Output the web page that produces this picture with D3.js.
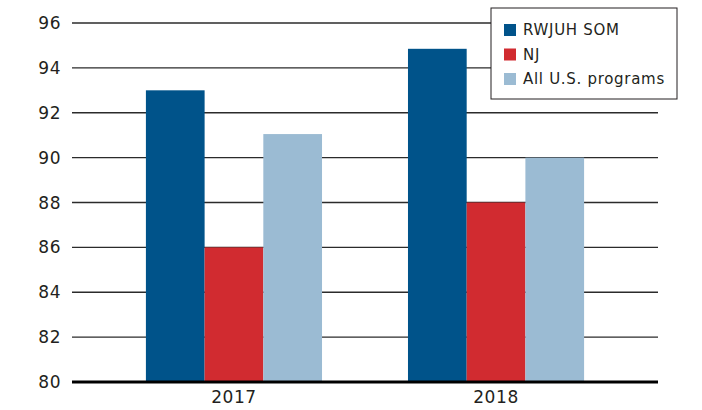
<!DOCTYPE html>
<html>
<head>
<meta charset="utf-8">
<script src="https://cdn.jsdelivr.net/npm/d3@7"></script>
<style>
  body { margin: 0; background: #fff; }
  text { font-family: "DejaVu Sans", "Noto Sans", sans-serif; fill: #231f20; }
</style>
</head>
<body>
<div id="chart"></div>
<script>
// years on the x axis
const years = ["2017", "2018"]
const series = ["RWJUH SOM", "NJ", "All U.S. programs"]
const colors = ["#00538a", "#d12b30", "#9bbbd3"]

// values per series, same order as years
const rwjuh = [93.0, 94.85]
const nj = [86.0, 88.0]
const allUS = [91.05, 90.0]

const yTicks = [80, 82, 84, 86, 88, 90, 92, 94, 96]

const width = 702, height = 410
const margin = { top: 23, right: 44, bottom: 28, left: 72 }

const svg = d3.select("#chart")
    .append("svg")
    .attr("width", width)
    .attr("height", height)

const y = d3.scaleLinear()
    .domain([80, 96])
    .range([height - margin.bottom, margin.top])

const x0 = d3.scaleBand()
    .domain(years)
    .range([margin.left, width - margin.right])
    .paddingInner(0.328)
    .paddingOuter(0.282)

const x1 = d3.scaleBand()
    .domain(series)
    .range([0, x0.bandwidth()])

// grid lines
svg.append("g")
    .selectAll("line")
    .data(yTicks.filter(t => t !== 80))
    .enter().append("line")
    .attr("x1", margin.left)
    .attr("x2", width - margin.right)
    .attr("y1", d => y(d))
    .attr("y2", d => y(d))
    .attr("stroke", "#2b2b2b")
    .attr("stroke-width", 1.3)

// tick labels
svg.append("g")
    .selectAll("text")
    .data(yTicks)
    .enter().append("text")
    .attr("x", 61)
    .attr("y", d => y(d))
    .attr("dy", "0.36em")
    .attr("text-anchor", "end")
    .attr("font-size", 17)
    .attr("letter-spacing", 0.5)
    .text(d => d)

// bars
const data = years.map((yr, i) => ({ year: yr, values: [rwjuh[i], nj[i], allUS[i]] }))

svg.append("g")
    .selectAll("g")
    .data(data)
    .enter().append("g")
    .attr("transform", d => "translate(" + x0(d.year) + ",0)")
    .selectAll("rect")
    .data(d => d.values.map((v, i) => ({ key: series[i], value: v, color: colors[i] })))
    .enter().append("rect")
    .attr("x", d => x1(d.key))
    .attr("width", x1.bandwidth())
    .attr("y", d => y(d.value))
    .attr("height", d => y(80) - y(d.value))
    .attr("fill", d => d.color)

// baseline
svg.append("line")
    .attr("x1", margin.left)
    .attr("x2", width - margin.right)
    .attr("y1", y(80))
    .attr("y2", y(80))
    .attr("stroke", "#000")
    .attr("stroke-width", 3)

// x labels
svg.append("g")
    .selectAll("text")
    .data(years)
    .enter().append("text")
    .attr("x", d => x0(d) + x0.bandwidth() / 2)
    .attr("y", height - 7)
    .attr("text-anchor", "middle")
    .attr("font-size", 17)
    .attr("letter-spacing", 0.6)
    .text(d => d)

// legend
const legend = svg.append("g").attr("transform", "translate(491,8)")
legend.append("rect")
    .attr("width", 186)
    .attr("height", 91)
    .attr("fill", "#fff")
    .attr("stroke", "#231f20")
    .attr("stroke-width", 1)

const rows = legend.selectAll("g.row")
    .data(series)
    .enter().append("g")
    .attr("class", "row")
    .attr("transform", (d, i) => "translate(13," + (22 + i * 24.5) + ")")

rows.append("rect")
    .attr("y", -6)
    .attr("width", 12)
    .attr("height", 12)
    .attr("fill", (d, i) => colors[i])

rows.append("text")
    .attr("x", 19)
    .attr("dy", "0.36em")
    .attr("font-size", 15)
    .attr("letter-spacing", 0.7)
    .text(d => d)
</script>
</body>
</html>
